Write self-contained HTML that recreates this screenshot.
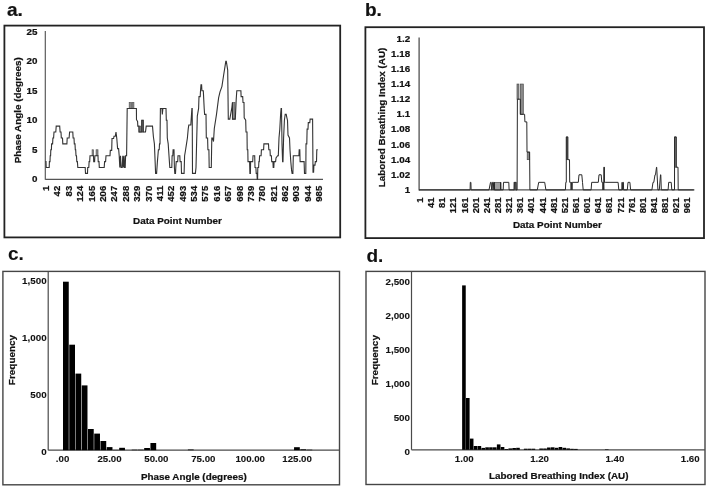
<!DOCTYPE html>
<html><head><meta charset="utf-8"><style>
html,body{margin:0;padding:0;background:#fff;width:708px;height:488px;overflow:hidden;}
svg{display:block;font-family:"Liberation Sans", sans-serif;filter:grayscale(1);}
text{stroke:#111;stroke-width:0.22px;paint-order:stroke;}
.g2 text{stroke-width:0.1px;}
.g2 text.t{stroke-width:0.22px;}
</style></head><body>
<svg width="708" height="488" viewBox="0 0 708 488">
<rect width="708" height="488" fill="#fff"/>
<text x="7.00" y="16.00" font-size="19" text-anchor="start" font-weight="bold" fill="#111">a.</text>
<rect x="4.40" y="25.60" width="335.80" height="211.80" fill="none" stroke="#222" stroke-width="1.8"/>
<line x1="45.30" y1="31.00" x2="45.30" y2="179.80" stroke="#555" stroke-width="1.15"/>
<line x1="45.30" y1="179.30" x2="323.00" y2="179.30" stroke="#555" stroke-width="1.15"/>
<text x="37.40" y="182.30" font-size="9.8" text-anchor="end" font-weight="bold" fill="#111">0</text>
<text x="37.40" y="152.78" font-size="9.8" text-anchor="end" font-weight="bold" fill="#111">5</text>
<text x="37.40" y="123.26" font-size="9.8" text-anchor="end" font-weight="bold" fill="#111">10</text>
<text x="37.40" y="93.74" font-size="9.8" text-anchor="end" font-weight="bold" fill="#111">15</text>
<text x="37.40" y="64.22" font-size="9.8" text-anchor="end" font-weight="bold" fill="#111">20</text>
<text x="37.40" y="34.70" font-size="9.8" text-anchor="end" font-weight="bold" fill="#111">25</text>
<text x="49.10" y="185.80" font-size="9.5" text-anchor="end" font-weight="bold" fill="#111" transform="rotate(-90 49.10 185.80)">1</text>
<text x="60.48" y="185.80" font-size="9.5" text-anchor="end" font-weight="bold" fill="#111" transform="rotate(-90 60.48 185.80)">42</text>
<text x="71.86" y="185.80" font-size="9.5" text-anchor="end" font-weight="bold" fill="#111" transform="rotate(-90 71.86 185.80)">83</text>
<text x="83.24" y="185.80" font-size="9.5" text-anchor="end" font-weight="bold" fill="#111" transform="rotate(-90 83.24 185.80)">124</text>
<text x="94.62" y="185.80" font-size="9.5" text-anchor="end" font-weight="bold" fill="#111" transform="rotate(-90 94.62 185.80)">165</text>
<text x="106.00" y="185.80" font-size="9.5" text-anchor="end" font-weight="bold" fill="#111" transform="rotate(-90 106.00 185.80)">206</text>
<text x="117.38" y="185.80" font-size="9.5" text-anchor="end" font-weight="bold" fill="#111" transform="rotate(-90 117.38 185.80)">247</text>
<text x="128.76" y="185.80" font-size="9.5" text-anchor="end" font-weight="bold" fill="#111" transform="rotate(-90 128.76 185.80)">288</text>
<text x="140.14" y="185.80" font-size="9.5" text-anchor="end" font-weight="bold" fill="#111" transform="rotate(-90 140.14 185.80)">329</text>
<text x="151.52" y="185.80" font-size="9.5" text-anchor="end" font-weight="bold" fill="#111" transform="rotate(-90 151.52 185.80)">370</text>
<text x="162.90" y="185.80" font-size="9.5" text-anchor="end" font-weight="bold" fill="#111" transform="rotate(-90 162.90 185.80)">411</text>
<text x="174.28" y="185.80" font-size="9.5" text-anchor="end" font-weight="bold" fill="#111" transform="rotate(-90 174.28 185.80)">452</text>
<text x="185.66" y="185.80" font-size="9.5" text-anchor="end" font-weight="bold" fill="#111" transform="rotate(-90 185.66 185.80)">493</text>
<text x="197.04" y="185.80" font-size="9.5" text-anchor="end" font-weight="bold" fill="#111" transform="rotate(-90 197.04 185.80)">534</text>
<text x="208.42" y="185.80" font-size="9.5" text-anchor="end" font-weight="bold" fill="#111" transform="rotate(-90 208.42 185.80)">575</text>
<text x="219.80" y="185.80" font-size="9.5" text-anchor="end" font-weight="bold" fill="#111" transform="rotate(-90 219.80 185.80)">616</text>
<text x="231.18" y="185.80" font-size="9.5" text-anchor="end" font-weight="bold" fill="#111" transform="rotate(-90 231.18 185.80)">657</text>
<text x="242.56" y="185.80" font-size="9.5" text-anchor="end" font-weight="bold" fill="#111" transform="rotate(-90 242.56 185.80)">698</text>
<text x="253.94" y="185.80" font-size="9.5" text-anchor="end" font-weight="bold" fill="#111" transform="rotate(-90 253.94 185.80)">739</text>
<text x="265.32" y="185.80" font-size="9.5" text-anchor="end" font-weight="bold" fill="#111" transform="rotate(-90 265.32 185.80)">780</text>
<text x="276.70" y="185.80" font-size="9.5" text-anchor="end" font-weight="bold" fill="#111" transform="rotate(-90 276.70 185.80)">821</text>
<text x="288.08" y="185.80" font-size="9.5" text-anchor="end" font-weight="bold" fill="#111" transform="rotate(-90 288.08 185.80)">862</text>
<text x="299.46" y="185.80" font-size="9.5" text-anchor="end" font-weight="bold" fill="#111" transform="rotate(-90 299.46 185.80)">903</text>
<text x="310.84" y="185.80" font-size="9.5" text-anchor="end" font-weight="bold" fill="#111" transform="rotate(-90 310.84 185.80)">944</text>
<text x="322.22" y="185.80" font-size="9.5" text-anchor="end" font-weight="bold" fill="#111" transform="rotate(-90 322.22 185.80)">985</text>
<text x="20.80" y="110.30" font-size="9.9" text-anchor="middle" font-weight="bold" fill="#111" transform="rotate(-90 20.80 110.30)">Phase Angle (degrees)</text>
<text x="177.50" y="223.90" font-size="9.9" text-anchor="middle" font-weight="bold" fill="#111">Data Point Number</text>
<text x="365.00" y="16.00" font-size="19" text-anchor="start" font-weight="bold" fill="#111">b.</text>
<rect x="365.40" y="27.20" width="338.60" height="210.90" fill="none" stroke="#222" stroke-width="1.8"/>
<line x1="419.10" y1="37.50" x2="419.10" y2="190.40" stroke="#4a4a4a" stroke-width="1.25"/>
<line x1="419.10" y1="189.90" x2="694.40" y2="189.90" stroke="#555" stroke-width="1.15"/>
<text x="410.10" y="41.70" font-size="9.8" text-anchor="end" font-weight="bold" fill="#111">1.2</text>
<text x="410.10" y="56.82" font-size="9.8" text-anchor="end" font-weight="bold" fill="#111">1.18</text>
<text x="410.10" y="71.94" font-size="9.8" text-anchor="end" font-weight="bold" fill="#111">1.16</text>
<text x="410.10" y="87.06" font-size="9.8" text-anchor="end" font-weight="bold" fill="#111">1.14</text>
<text x="410.10" y="102.18" font-size="9.8" text-anchor="end" font-weight="bold" fill="#111">1.12</text>
<text x="410.10" y="117.30" font-size="9.8" text-anchor="end" font-weight="bold" fill="#111">1.1</text>
<text x="410.10" y="132.42" font-size="9.8" text-anchor="end" font-weight="bold" fill="#111">1.08</text>
<text x="410.10" y="147.54" font-size="9.8" text-anchor="end" font-weight="bold" fill="#111">1.06</text>
<text x="410.10" y="162.66" font-size="9.8" text-anchor="end" font-weight="bold" fill="#111">1.04</text>
<text x="410.10" y="177.78" font-size="9.8" text-anchor="end" font-weight="bold" fill="#111">1.02</text>
<text x="410.10" y="192.90" font-size="9.8" text-anchor="end" font-weight="bold" fill="#111">1</text>
<text x="423.00" y="197.50" font-size="9.4" text-anchor="end" font-weight="bold" fill="#111" transform="rotate(-90 423.00 197.50)">1</text>
<text x="434.14" y="197.50" font-size="9.4" text-anchor="end" font-weight="bold" fill="#111" transform="rotate(-90 434.14 197.50)">41</text>
<text x="445.28" y="197.50" font-size="9.4" text-anchor="end" font-weight="bold" fill="#111" transform="rotate(-90 445.28 197.50)">81</text>
<text x="456.42" y="197.50" font-size="9.4" text-anchor="end" font-weight="bold" fill="#111" transform="rotate(-90 456.42 197.50)">121</text>
<text x="467.56" y="197.50" font-size="9.4" text-anchor="end" font-weight="bold" fill="#111" transform="rotate(-90 467.56 197.50)">161</text>
<text x="478.70" y="197.50" font-size="9.4" text-anchor="end" font-weight="bold" fill="#111" transform="rotate(-90 478.70 197.50)">201</text>
<text x="489.84" y="197.50" font-size="9.4" text-anchor="end" font-weight="bold" fill="#111" transform="rotate(-90 489.84 197.50)">241</text>
<text x="500.98" y="197.50" font-size="9.4" text-anchor="end" font-weight="bold" fill="#111" transform="rotate(-90 500.98 197.50)">281</text>
<text x="512.12" y="197.50" font-size="9.4" text-anchor="end" font-weight="bold" fill="#111" transform="rotate(-90 512.12 197.50)">321</text>
<text x="523.26" y="197.50" font-size="9.4" text-anchor="end" font-weight="bold" fill="#111" transform="rotate(-90 523.26 197.50)">361</text>
<text x="534.40" y="197.50" font-size="9.4" text-anchor="end" font-weight="bold" fill="#111" transform="rotate(-90 534.40 197.50)">401</text>
<text x="545.54" y="197.50" font-size="9.4" text-anchor="end" font-weight="bold" fill="#111" transform="rotate(-90 545.54 197.50)">441</text>
<text x="556.68" y="197.50" font-size="9.4" text-anchor="end" font-weight="bold" fill="#111" transform="rotate(-90 556.68 197.50)">481</text>
<text x="567.82" y="197.50" font-size="9.4" text-anchor="end" font-weight="bold" fill="#111" transform="rotate(-90 567.82 197.50)">521</text>
<text x="578.96" y="197.50" font-size="9.4" text-anchor="end" font-weight="bold" fill="#111" transform="rotate(-90 578.96 197.50)">561</text>
<text x="590.10" y="197.50" font-size="9.4" text-anchor="end" font-weight="bold" fill="#111" transform="rotate(-90 590.10 197.50)">601</text>
<text x="601.24" y="197.50" font-size="9.4" text-anchor="end" font-weight="bold" fill="#111" transform="rotate(-90 601.24 197.50)">641</text>
<text x="612.38" y="197.50" font-size="9.4" text-anchor="end" font-weight="bold" fill="#111" transform="rotate(-90 612.38 197.50)">681</text>
<text x="623.52" y="197.50" font-size="9.4" text-anchor="end" font-weight="bold" fill="#111" transform="rotate(-90 623.52 197.50)">721</text>
<text x="634.66" y="197.50" font-size="9.4" text-anchor="end" font-weight="bold" fill="#111" transform="rotate(-90 634.66 197.50)">761</text>
<text x="645.80" y="197.50" font-size="9.4" text-anchor="end" font-weight="bold" fill="#111" transform="rotate(-90 645.80 197.50)">801</text>
<text x="656.94" y="197.50" font-size="9.4" text-anchor="end" font-weight="bold" fill="#111" transform="rotate(-90 656.94 197.50)">841</text>
<text x="668.08" y="197.50" font-size="9.4" text-anchor="end" font-weight="bold" fill="#111" transform="rotate(-90 668.08 197.50)">881</text>
<text x="679.22" y="197.50" font-size="9.4" text-anchor="end" font-weight="bold" fill="#111" transform="rotate(-90 679.22 197.50)">921</text>
<text x="690.36" y="197.50" font-size="9.4" text-anchor="end" font-weight="bold" fill="#111" transform="rotate(-90 690.36 197.50)">961</text>
<text x="384.60" y="117.40" font-size="9.85" text-anchor="middle" font-weight="bold" fill="#111" transform="rotate(-90 384.60 117.40)">Labored Breathing Index (AU)</text>
<text x="557.40" y="228.00" font-size="9.9" text-anchor="middle" font-weight="bold" fill="#111">Data Point Number</text>
<g class="g2">
<text x="8.00" y="259.70" font-size="19" text-anchor="start" font-weight="bold" fill="#111">c.</text>
<rect x="2.90" y="271.40" width="336.60" height="213.40" fill="none" stroke="#454545" stroke-width="1.4"/>
<line x1="48.20" y1="271.40" x2="48.20" y2="450.20" stroke="#4a4a4a" stroke-width="1.2"/>
<line x1="48.20" y1="450.20" x2="339.50" y2="450.20" stroke="#4a4a4a" stroke-width="1.2"/>
<text x="46.60" y="454.60" font-size="9.8" text-anchor="end" font-weight="bold" fill="#111">0</text>
<text x="46.60" y="397.83" font-size="9.8" text-anchor="end" font-weight="bold" fill="#111">500</text>
<text x="46.60" y="341.07" font-size="9.8" text-anchor="end" font-weight="bold" fill="#111">1,000</text>
<text x="46.60" y="284.30" font-size="9.8" text-anchor="end" font-weight="bold" fill="#111">1,500</text>
<text x="62.60" y="461.60" font-size="9.7" text-anchor="middle" font-weight="bold" fill="#111">.00</text>
<text x="109.50" y="461.60" font-size="9.7" text-anchor="middle" font-weight="bold" fill="#111">25.00</text>
<text x="156.40" y="461.60" font-size="9.7" text-anchor="middle" font-weight="bold" fill="#111">50.00</text>
<text x="203.30" y="461.60" font-size="9.7" text-anchor="middle" font-weight="bold" fill="#111">75.00</text>
<text x="250.20" y="461.60" font-size="9.7" text-anchor="middle" font-weight="bold" fill="#111">100.00</text>
<text x="297.10" y="461.60" font-size="9.7" text-anchor="middle" font-weight="bold" fill="#111">125.00</text>
<text x="14.80" y="360.00" font-size="9.95" text-anchor="middle" font-weight="bold" fill="#111" transform="rotate(-90 14.80 360.00)" class="t">Frequency</text>
<text x="193.80" y="479.50" font-size="9.85" text-anchor="middle" font-weight="bold" fill="#111" class="t">Phase Angle (degrees)</text>
<text x="366.50" y="262.00" font-size="19" text-anchor="start" font-weight="bold" fill="#111">d.</text>
<rect x="366.00" y="271.40" width="339.00" height="213.10" fill="none" stroke="#454545" stroke-width="1.4"/>
<line x1="411.50" y1="271.40" x2="411.50" y2="449.80" stroke="#4a4a4a" stroke-width="1.2"/>
<line x1="411.50" y1="449.80" x2="705.00" y2="449.80" stroke="#4a4a4a" stroke-width="1.2"/>
<text x="410.00" y="454.50" font-size="9.8" text-anchor="end" font-weight="bold" fill="#111">0</text>
<text x="410.00" y="420.60" font-size="9.8" text-anchor="end" font-weight="bold" fill="#111">500</text>
<text x="410.00" y="386.70" font-size="9.8" text-anchor="end" font-weight="bold" fill="#111">1,000</text>
<text x="410.00" y="352.80" font-size="9.8" text-anchor="end" font-weight="bold" fill="#111">1,500</text>
<text x="410.00" y="318.90" font-size="9.8" text-anchor="end" font-weight="bold" fill="#111">2,000</text>
<text x="410.00" y="285.00" font-size="9.8" text-anchor="end" font-weight="bold" fill="#111">2,500</text>
<text x="464.30" y="461.50" font-size="9.7" text-anchor="middle" font-weight="bold" fill="#111">1.00</text>
<text x="539.60" y="461.50" font-size="9.7" text-anchor="middle" font-weight="bold" fill="#111">1.20</text>
<text x="614.90" y="461.50" font-size="9.7" text-anchor="middle" font-weight="bold" fill="#111">1.40</text>
<text x="690.20" y="461.50" font-size="9.7" text-anchor="middle" font-weight="bold" fill="#111">1.60</text>
<text x="378.20" y="360.20" font-size="9.95" text-anchor="middle" font-weight="bold" fill="#111" transform="rotate(-90 378.20 360.20)" class="t">Frequency</text>
<text x="558.70" y="479.40" font-size="9.85" text-anchor="middle" font-weight="bold" fill="#111" class="t">Labored Breathing Index (AU)</text>
</g>
<rect x="92.10" y="149.78" width="1.40" height="5.90" fill="#8a8a8a" stroke="#555" stroke-width="0.7"/>
<rect x="96.10" y="149.78" width="1.90" height="5.90" fill="#8a8a8a" stroke="#555" stroke-width="0.7"/>
<rect x="129.20" y="102.55" width="2.10" height="5.90" fill="#8a8a8a" stroke="#555" stroke-width="0.7"/>
<rect x="132.00" y="102.55" width="1.90" height="5.90" fill="#8a8a8a" stroke="#555" stroke-width="0.7"/>
<rect x="139.00" y="126.16" width="1.80" height="5.90" fill="#8a8a8a" stroke="#555" stroke-width="0.7"/>
<rect x="141.70" y="120.26" width="1.50" height="11.81" fill="#8a8a8a" stroke="#555" stroke-width="0.7"/>
<rect x="232.50" y="102.55" width="2.50" height="16.53" fill="#8a8a8a" stroke="#555" stroke-width="0.7"/>
<polyline points="45.30,161.59 46.00,161.59 46.20,167.49 49.20,167.49 49.40,161.59 50.00,161.59 50.20,155.68 50.60,155.68 50.80,149.78 51.40,149.78 51.60,143.88 52.60,143.88 52.90,137.97 53.60,137.97 54.00,132.07 55.80,132.07 56.20,126.16 59.70,126.16 60.10,132.07 61.00,132.07 61.30,137.97 62.50,137.97 62.80,143.88 66.90,143.88 67.20,137.97 69.10,137.97 69.60,132.07 72.80,132.07 73.10,137.97 74.00,137.97 74.30,143.88 75.00,143.88 75.30,149.78 75.70,149.78 76.00,155.68 76.50,155.68 76.80,161.59 77.40,161.59 77.80,167.49 85.20,167.49 85.50,173.40 87.50,173.40 87.70,167.49 88.80,167.49 89.10,161.59 89.70,161.59 90.00,155.68 93.50,155.68 93.70,161.59 94.60,161.59 94.90,155.68 98.00,155.68 98.20,161.59 99.00,161.59 99.30,167.49 104.20,167.49 104.60,161.59 105.60,161.59 106.00,155.68 110.00,155.68 110.30,150.37 111.70,150.37 112.00,138.56 113.60,138.56 114.00,136.20 115.30,136.20 116.00,132.07 116.80,138.56 117.60,148.60 118.60,148.60 119.20,155.68 119.80,167.49 120.50,155.68 121.10,167.49 122.20,167.49 122.80,155.68 123.50,167.49 124.10,155.68 124.60,167.49 125.20,167.49 125.60,155.68 126.60,155.68 127.20,108.45 136.40,108.45 136.50,119.67 137.60,121.44 137.80,126.16 138.90,126.16 139.00,132.07 140.80,132.07 141.70,132.07 141.80,120.26 143.20,120.26 143.30,132.07 145.50,132.07 146.20,126.16 152.50,126.16 153.40,136.79 154.40,143.88 155.60,173.40 156.60,173.40 157.00,167.49 157.40,161.59 157.90,155.68 158.40,149.78 159.20,149.78 159.50,143.88 160.00,143.88 160.40,108.45 162.00,108.45 162.30,114.36 162.90,108.45 166.00,108.45 166.30,120.26 167.00,120.26 167.30,137.97 168.20,143.88 168.60,149.78 169.00,155.68 169.40,161.59 169.80,167.49 171.80,167.49 172.10,155.68 172.80,155.68 173.10,149.78 174.00,149.78 174.40,167.49 174.80,173.40 175.50,173.40 175.80,167.49 176.20,161.59 177.70,161.59 178.00,155.68 179.80,155.68 180.10,161.59 181.20,161.59 181.50,173.40 184.10,173.40 184.60,155.68 185.60,149.78 186.50,143.88 187.40,137.97 188.20,129.12 188.80,124.98 190.80,124.98 191.90,108.45 192.20,108.45 192.50,173.40 195.40,173.40 196.00,167.49 197.30,116.13 197.60,114.36 198.60,108.45 199.00,96.64 200.20,96.64 200.50,90.74 201.00,84.84 201.60,84.84 201.90,90.74 203.30,90.74 203.60,96.64 204.20,108.45 204.60,114.36 206.00,114.36 206.30,137.97 207.60,137.97 207.90,149.78 208.90,149.78 209.20,167.49 211.30,167.49 211.80,137.97 212.60,137.97 213.50,141.51 214.30,128.53 216.50,114.36 218.60,97.82 220.00,91.92 221.90,86.61 223.50,75.98 225.10,65.94 225.80,61.22 226.30,61.22 227.70,70.08 228.30,119.08 229.80,119.08 231.90,107.27 232.40,102.55 232.50,119.08 235.30,119.08 236.20,99.60 236.80,90.74 240.90,90.74 241.10,96.64 242.70,96.64 243.00,102.55 244.00,102.55 244.20,117.90 245.70,120.26 246.00,132.07 247.00,132.07 247.20,149.78 247.80,149.78 248.00,161.59 249.60,161.59 249.90,173.40 250.40,173.40 250.60,161.59 252.70,161.59 253.00,155.68 254.70,155.68 255.00,167.49 255.90,167.49 256.20,173.40 257.00,173.40 257.20,179.30 257.60,179.30 257.80,167.49 258.60,167.49 258.90,161.59 259.30,161.59 259.60,155.68 261.10,155.68 261.40,149.78 263.60,149.78 263.90,143.88 268.50,143.88 268.80,149.78 270.00,149.78 270.30,155.68 271.40,155.68 271.70,161.59 272.90,161.59 273.20,167.49 273.80,167.49 274.10,161.59 275.60,161.59 276.00,158.05 277.60,155.68 278.30,155.68 279.00,137.97 279.80,129.12 280.60,114.36 281.10,108.45 281.50,108.45 282.00,143.88 282.60,161.59 283.00,161.59 283.60,137.97 284.40,120.26 285.20,114.36 286.20,114.36 286.80,117.31 287.50,120.26 288.00,135.02 289.50,137.97 290.00,149.78 290.80,161.59 291.60,170.44 292.10,173.40 292.90,173.40 293.30,155.68 298.90,155.68 299.20,149.78 299.80,149.78 300.10,161.59 304.10,161.59 304.50,173.40 305.80,173.40 306.00,143.88 306.80,143.88 307.10,129.12 308.00,129.12 308.30,122.62 309.80,122.62 310.10,119.08 312.60,119.08 313.00,172.22 313.60,172.22 313.90,165.13 315.00,165.13 315.30,161.59 316.50,161.59 316.80,149.78 317.80,149.78" fill="none" stroke="#333" stroke-width="1.1" stroke-linejoin="miter"/>
<rect x="517.00" y="84.06" width="1.90" height="15.12" fill="#8a8a8a" stroke="#4a4a4a" stroke-width="0.7"/>
<rect x="520.30" y="84.06" width="3.00" height="30.24" fill="#8a8a8a" stroke="#4a4a4a" stroke-width="0.7"/>
<rect x="527.20" y="152.10" width="2.50" height="7.56" fill="#8a8a8a" stroke="#4a4a4a" stroke-width="0.7"/>
<rect x="566.30" y="136.98" width="1.50" height="22.68" fill="#8a8a8a" stroke="#4a4a4a" stroke-width="0.7"/>
<rect x="674.60" y="136.98" width="1.60" height="30.24" fill="#8a8a8a" stroke="#4a4a4a" stroke-width="0.7"/>
<rect x="603.90" y="167.22" width="0.70" height="15.12" fill="#777" stroke="#4a4a4a" stroke-width="0.7"/>
<rect x="494.40" y="182.34" width="6.30" height="7.56" fill="#a0a0a0" stroke="#4a4a4a" stroke-width="0.7"/>
<rect x="514.00" y="182.34" width="2.20" height="7.56" fill="#888" stroke="#4a4a4a" stroke-width="0.7"/>
<polyline points="419.00,189.90 470.10,189.90 470.30,182.34 470.90,182.34 471.10,189.90 489.00,189.90 490.50,182.34 491.20,182.34 491.60,189.90 492.20,189.90 492.50,182.34 493.40,182.34 493.70,189.90 494.20,189.90 494.30,182.34 494.60,189.90 500.60,189.90 500.70,182.34 500.90,189.90 503.20,189.90 503.50,182.34 508.80,182.34 509.10,189.90 514.20,189.90 514.40,182.34 515.80,182.34 516.00,189.90 517.10,189.90 517.40,99.18 520.30,99.18 520.30,114.30 523.30,114.30 524.60,114.30 524.90,121.86 526.80,121.86 527.00,152.10 529.60,152.10 529.90,189.90 537.30,189.90 538.70,182.34 544.70,182.34 545.90,189.90 565.40,189.90 565.80,182.34 566.30,182.34 566.30,136.98 567.80,136.98 567.80,159.66 569.50,159.66 569.70,182.34 570.80,182.34 571.10,189.90 571.60,182.34 572.00,189.90 572.30,182.34 578.30,182.34 579.00,174.78 581.80,174.78 582.50,182.34 583.20,189.90 591.10,189.90 591.70,182.34 598.30,182.34 599.00,174.78 601.20,174.78 601.80,182.34 602.70,182.34 602.90,189.90 603.40,182.34 603.80,189.90 604.20,167.22 604.50,182.34 605.20,182.34 618.10,182.34 618.80,189.90 621.80,189.90 622.10,182.34 622.50,189.90 622.90,182.34 623.40,182.34 623.60,189.90 627.30,189.90 628.00,182.34 629.90,182.34 630.60,189.90 651.90,189.90 653.00,182.34 653.80,182.34 655.00,174.78 655.50,174.78 656.50,167.22 656.70,167.22 657.90,189.90 659.30,189.90 660.50,174.78 660.80,174.78 661.30,189.90 668.10,189.90 668.70,182.34 671.20,182.34 671.80,189.90 674.50,189.90 674.60,136.98 676.20,136.98 676.20,167.22 678.00,167.22 678.20,189.90 693.80,189.90" fill="none" stroke="#2a2a2a" stroke-width="1" stroke-linejoin="miter"/>
<rect x="63.00" y="281.70" width="5.75" height="168.50" fill="#000" stroke="none" stroke-width="1"/>
<rect x="69.25" y="344.70" width="5.75" height="105.50" fill="#000" stroke="none" stroke-width="1"/>
<rect x="75.49" y="373.60" width="5.75" height="76.60" fill="#000" stroke="none" stroke-width="1"/>
<rect x="81.73" y="385.40" width="5.75" height="64.80" fill="#000" stroke="none" stroke-width="1"/>
<rect x="87.98" y="429.00" width="5.75" height="21.20" fill="#000" stroke="none" stroke-width="1"/>
<rect x="94.23" y="433.60" width="5.75" height="16.60" fill="#000" stroke="none" stroke-width="1"/>
<rect x="100.47" y="441.00" width="5.75" height="9.20" fill="#000" stroke="none" stroke-width="1"/>
<rect x="106.72" y="447.10" width="5.75" height="3.10" fill="#000" stroke="none" stroke-width="1"/>
<rect x="112.96" y="449.90" width="5.75" height="0.30" fill="#000" stroke="none" stroke-width="1"/>
<rect x="119.20" y="447.80" width="5.75" height="2.40" fill="#000" stroke="none" stroke-width="1"/>
<rect x="131.70" y="449.70" width="5.75" height="0.50" fill="#000" stroke="none" stroke-width="1"/>
<rect x="137.94" y="449.70" width="5.75" height="0.50" fill="#000" stroke="none" stroke-width="1"/>
<rect x="144.19" y="448.00" width="5.75" height="2.20" fill="#000" stroke="none" stroke-width="1"/>
<rect x="150.43" y="443.00" width="5.75" height="7.20" fill="#000" stroke="none" stroke-width="1"/>
<rect x="187.90" y="449.50" width="5.75" height="0.70" fill="#000" stroke="none" stroke-width="1"/>
<rect x="294.06" y="447.20" width="5.75" height="3.00" fill="#000" stroke="none" stroke-width="1"/>
<rect x="300.31" y="449.30" width="5.75" height="0.90" fill="#000" stroke="none" stroke-width="1"/>
<rect x="306.56" y="449.70" width="5.75" height="0.50" fill="#000" stroke="none" stroke-width="1"/>
<rect x="462.13" y="285.40" width="3.61" height="164.40" fill="#000" stroke="none" stroke-width="1"/>
<rect x="465.99" y="398.00" width="3.61" height="51.80" fill="#000" stroke="none" stroke-width="1"/>
<rect x="469.85" y="438.60" width="3.61" height="11.20" fill="#000" stroke="none" stroke-width="1"/>
<rect x="473.71" y="446.00" width="3.61" height="3.80" fill="#000" stroke="none" stroke-width="1"/>
<rect x="477.57" y="446.00" width="3.61" height="3.80" fill="#000" stroke="none" stroke-width="1"/>
<rect x="481.43" y="447.90" width="3.61" height="1.90" fill="#000" stroke="none" stroke-width="1"/>
<rect x="485.29" y="447.30" width="3.61" height="2.50" fill="#000" stroke="none" stroke-width="1"/>
<rect x="489.15" y="447.30" width="3.61" height="2.50" fill="#000" stroke="none" stroke-width="1"/>
<rect x="493.01" y="447.30" width="3.61" height="2.50" fill="#000" stroke="none" stroke-width="1"/>
<rect x="496.87" y="444.40" width="3.61" height="5.40" fill="#000" stroke="none" stroke-width="1"/>
<rect x="500.73" y="447.00" width="3.61" height="2.80" fill="#000" stroke="none" stroke-width="1"/>
<rect x="504.59" y="449.00" width="3.61" height="0.80" fill="#000" stroke="none" stroke-width="1"/>
<rect x="508.45" y="448.40" width="3.61" height="1.40" fill="#000" stroke="none" stroke-width="1"/>
<rect x="512.31" y="448.00" width="3.61" height="1.80" fill="#000" stroke="none" stroke-width="1"/>
<rect x="516.17" y="447.80" width="3.61" height="2.00" fill="#000" stroke="none" stroke-width="1"/>
<rect x="523.89" y="448.70" width="3.61" height="1.10" fill="#000" stroke="none" stroke-width="1"/>
<rect x="527.75" y="448.70" width="3.61" height="1.10" fill="#000" stroke="none" stroke-width="1"/>
<rect x="531.61" y="448.70" width="3.61" height="1.10" fill="#000" stroke="none" stroke-width="1"/>
<rect x="539.33" y="448.50" width="3.61" height="1.30" fill="#000" stroke="none" stroke-width="1"/>
<rect x="543.19" y="448.50" width="3.61" height="1.30" fill="#000" stroke="none" stroke-width="1"/>
<rect x="547.05" y="447.50" width="3.61" height="2.30" fill="#000" stroke="none" stroke-width="1"/>
<rect x="550.91" y="447.30" width="3.61" height="2.50" fill="#000" stroke="none" stroke-width="1"/>
<rect x="554.77" y="447.80" width="3.61" height="2.00" fill="#000" stroke="none" stroke-width="1"/>
<rect x="558.63" y="447.00" width="3.61" height="2.80" fill="#000" stroke="none" stroke-width="1"/>
<rect x="562.49" y="447.80" width="3.61" height="2.00" fill="#000" stroke="none" stroke-width="1"/>
<rect x="566.35" y="448.40" width="3.61" height="1.40" fill="#000" stroke="none" stroke-width="1"/>
<rect x="570.21" y="448.80" width="3.61" height="1.00" fill="#000" stroke="none" stroke-width="1"/>
<rect x="574.07" y="448.90" width="3.61" height="0.90" fill="#000" stroke="none" stroke-width="1"/>
<rect x="604.95" y="449.30" width="3.61" height="0.50" fill="#000" stroke="none" stroke-width="1"/>
</svg></body></html>
